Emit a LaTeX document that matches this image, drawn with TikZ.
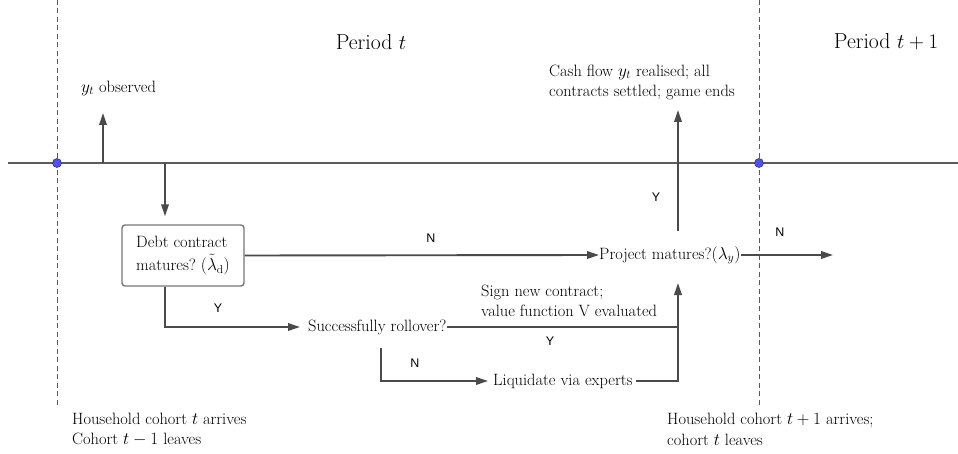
\documentclass[tikz,border=0pt]{standalone}
\usepackage{fontspec}
\newfontfamily\labfont{Liberation Sans}
\usetikzlibrary{arrows.meta}
\definecolor{linegray}{HTML}{4A4A4A}
\definecolor{boxgray}{HTML}{777777}
\definecolor{dotblue}{HTML}{4F4FF5}
\begin{document}
\begin{tikzpicture}[x=1pt,y=-1pt,
  line/.style={draw=linegray, line width=1.9pt},
  arr/.style={line, -{Triangle[length=12pt,width=7.5pt]}},
  txt/.style={inner sep=0pt, font=\fontsize{16.4}{20.5}\selectfont, align=left},
  bigtxt/.style={inner sep=0pt, font=\fontsize{21.7}{26}\selectfont},
  yn/.style={inner sep=0pt, font=\labfont\fontsize{12.5}{14}\selectfont},
  dot/.style={circle, fill=dotblue, draw=black!75, line width=0.6pt, minimum size=9pt, inner sep=0pt},
  vdash/.style={draw=black!65, line width=0.9pt, dash pattern=on 5pt off 3.5pt},
  decbox/.style={draw=boxgray, line width=1.4pt, rounded corners=3pt, minimum width=122pt, minimum height=61pt, inner sep=0pt, font=\fontsize{16.4}{23}\selectfont, align=left}]
\useasboundingbox (0,0) rectangle (958,454);

% dashed period boundaries
\coordinate (dLtop) at (57,0);
\coordinate (dLbot) at (57,407);
\coordinate (dRtop) at (759,0);
\coordinate (dRbot) at (759,407);
\draw[vdash] (dLtop) -- (dLbot);
\draw[vdash] (dRtop) -- (dRbot);

% timeline
\coordinate (tlL) at (8,163);
\coordinate (tlR) at (958,163);
\draw[draw=linegray!90, line width=1.9pt] (tlL) -- (tlR);
\node[dot] (d1) at (57,163) {};
\node[dot] (d2) at (759,163) {};

% period labels
\node[bigtxt] (pt) at (371,42) {Period $t$};
\node[bigtxt] (pt1) at (886,42) {Period $t+1$};

% y_t observed
\node[txt, anchor=west] (yo) at (81,88) {$y_t$ observed};
\coordinate (yabase) at (103,163);
\coordinate (yatip) at (103,113);
\draw[arr] (yabase) -- (yatip);

% debt contract box
\coordinate (da) at (165,163);
\node[decbox] (debt) at (183,255.5) {Debt contract\\matures?\ $(\tilde{\lambda}_{\mathrm{d}})$};
\draw[arr, shorten >=8pt] (da) -- (debt.north -| da);

% project matures
\node[txt, anchor=west] (pm) at (599,255) {Project matures?$(\lambda_y)$};
\draw[arr] (debt.east) -- (pm.west);
\node[yn] (n1) at (431,238) {N};

% right continuation
\coordinate (nend) at (833,255);
\draw[arr] (pm.east) -- (nend);
\node[yn] (n2) at (780,232) {N};

% up arrow to cash flow
\coordinate (pmtop) at (678,231);
\coordinate (cf) at (678,110);
\draw[arr] (pmtop) -- (cf);
\node[yn] (y1) at (656,197) {Y};
\node[txt, anchor=west] (cash) at (549,82.5) {Cash flow $y_t$ realised; all\\contracts settled; game ends};

% rollover
\node[txt, anchor=west] (sr) at (308,327) {Successfully rollover?};
\draw[arr, shorten >=8pt] (debt.south -| da) |- (sr.west);
\node[yn] (y2) at (218,308) {Y};

\coordinate (join1) at (678,327);
\draw[line] (sr.east) -- (join1);
\node[txt, anchor=west] (sign) at (481,301) {Sign new contract;\\value function V evaluated};
\node[yn] (y3) at (550,341) {Y};

% liquidate
\node[txt, anchor=west] (liq) at (493,381) {Liquidate via experts};
\coordinate (nb) at (381,348);
\draw[arr, shorten >=5pt] (nb) |- (liq.west);
\node[yn] (n3) at (415,363) {N};
\coordinate (pmbot) at (678,283);
\draw[arr, shorten <=3pt] (liq.east) -| (pmbot);

% cohort notes
\node[txt, anchor=west] (hL) at (72,429.5) {Household cohort $t$ arrives\\Cohort $t-1$ leaves};
\node[txt, anchor=west] (hR) at (667,429.5) {Household cohort $t+1$ arrives;\\cohort $t$ leaves};
\end{tikzpicture}
\end{document}
